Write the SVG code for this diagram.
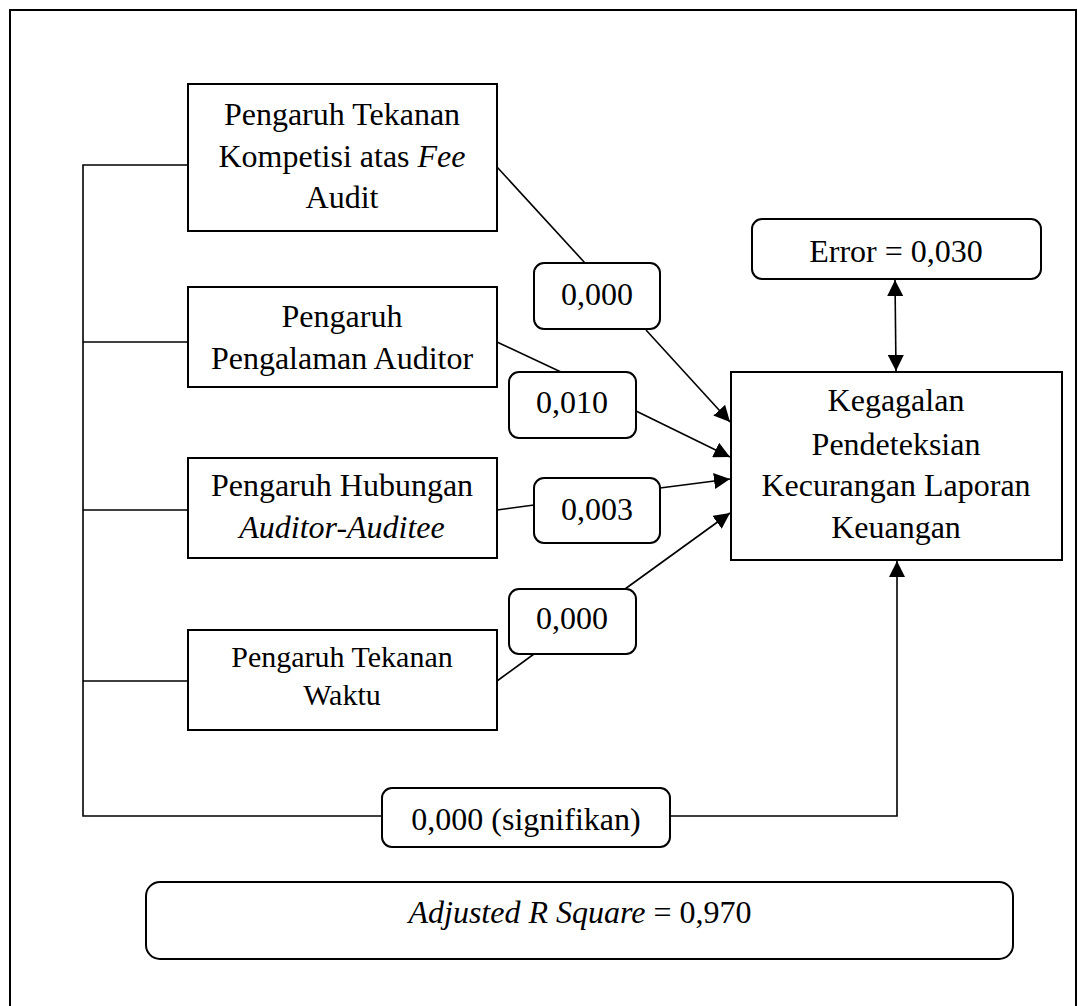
<svg xmlns="http://www.w3.org/2000/svg" width="1078" height="1006" viewBox="0 0 1078 1006">
<style>
text{font-family:"Liberation Serif","Times New Roman",serif;font-size:32px;fill:#000;text-anchor:middle}
.box{fill:#fff;stroke:#000;stroke-width:2}
.lbl{fill:#fff;stroke:#000;stroke-width:2}
.ln{fill:none;stroke:#000;stroke-width:1.6}
.i{font-style:italic}
</style>
<defs>
<marker id="ah" viewBox="0 0 10 10" refX="10" refY="5" markerWidth="16" markerHeight="16" markerUnits="userSpaceOnUse" orient="auto-start-reverse">
<path d="M0,0 L10,5 L0,10 z" fill="#000"/>
</marker>
</defs>
<rect x="0" y="0" width="1078" height="1006" fill="#fff"/>
<rect x="10" y="10" width="1066" height="1010" fill="none" stroke="#000" stroke-width="2"/>

<g id="connectors">
<polyline class="ln" points="188,165 83,165 83,816 382,816"/>
<line class="ln" x1="83" y1="342" x2="188" y2="342"/>
<line class="ln" x1="83" y1="510" x2="188" y2="510"/>
<line class="ln" x1="83" y1="681" x2="188" y2="681"/>
<polyline class="ln" points="670,816 897,816 897,561" marker-end="url(#ah)"/>
<line class="ln" x1="497" y1="167" x2="585" y2="263"/>
<line class="ln" x1="646" y1="330" x2="730" y2="422" marker-end="url(#ah)"/>
<line class="ln" x1="497" y1="342" x2="561" y2="372"/>
<line class="ln" x1="636" y1="411" x2="730" y2="457" marker-end="url(#ah)"/>
<line class="ln" x1="497" y1="510" x2="534" y2="505"/>
<line class="ln" x1="660" y1="488" x2="730" y2="479" marker-end="url(#ah)"/>
<line class="ln" x1="497" y1="681" x2="534" y2="654"/>
<line class="ln" x1="625" y1="589" x2="730" y2="513" marker-end="url(#ah)"/>
<line class="ln" x1="895" y1="280" x2="896" y2="371" marker-start="url(#ah)" marker-end="url(#ah)"/>
</g>

<g id="node-kompetisi">
<rect class="box" x="188" y="84" width="309" height="147"/>
<text x="342" y="125">Pengaruh Tekanan</text>
<text x="342" y="167">Kompetisi atas <tspan class="i">Fee</tspan></text>
<text x="342" y="208">Audit</text>
</g>
<g id="node-pengalaman">
<rect class="box" x="188" y="287" width="309" height="100"/>
<text x="342" y="327">Pengaruh</text>
<text x="342" y="369">Pengalaman Auditor</text>
</g>
<g id="node-hubungan">
<rect class="box" x="188" y="458" width="309" height="100"/>
<text x="342" y="496">Pengaruh Hubungan</text>
<text x="342" y="538" class="i">Auditor-Auditee</text>
</g>
<g id="node-waktu">
<rect class="box" x="188" y="630" width="309" height="100"/>
<text x="342" y="667" style="font-size:30px">Pengaruh Tekanan</text>
<text x="342" y="705" style="font-size:30px">Waktu</text>
</g>
<g id="node-target">
<rect class="box" x="731" y="372" width="331" height="188"/>
<text x="896" y="411">Kegagalan</text>
<text x="896" y="455">Pendeteksian</text>
<text x="896" y="496">Kecurangan Laporan</text>
<text x="896" y="538">Keuangan</text>
</g>
<g id="node-error">
<rect class="lbl" x="752" y="219" width="289" height="60" rx="10"/>
<text x="896" y="262">Error = 0,030</text>
</g>
<g id="label-1">
<rect class="lbl" x="534" y="263" width="126" height="66" rx="10"/>
<text x="597" y="305">0,000</text>
</g>
<g id="label-2">
<rect class="lbl" x="509" y="372" width="127" height="66" rx="10"/>
<text x="572" y="413">0,010</text>
</g>
<g id="label-3">
<rect class="lbl" x="534" y="478" width="126" height="65" rx="10"/>
<text x="597" y="520">0,003</text>
</g>
<g id="label-4">
<rect class="lbl" x="509" y="589" width="127" height="65" rx="10"/>
<text x="572" y="629">0,000</text>
</g>
<g id="label-signifikan">
<rect class="lbl" x="382" y="788" width="288" height="59" rx="10"/>
<text x="526" y="830">0,000 (signifikan)</text>
</g>
<g id="node-adjusted">
<rect class="lbl" x="146" y="882" width="867" height="77" rx="14"/>
<text x="580" y="923"><tspan class="i">Adjusted R Square</tspan> = 0,970</text>
</g>
</svg>
